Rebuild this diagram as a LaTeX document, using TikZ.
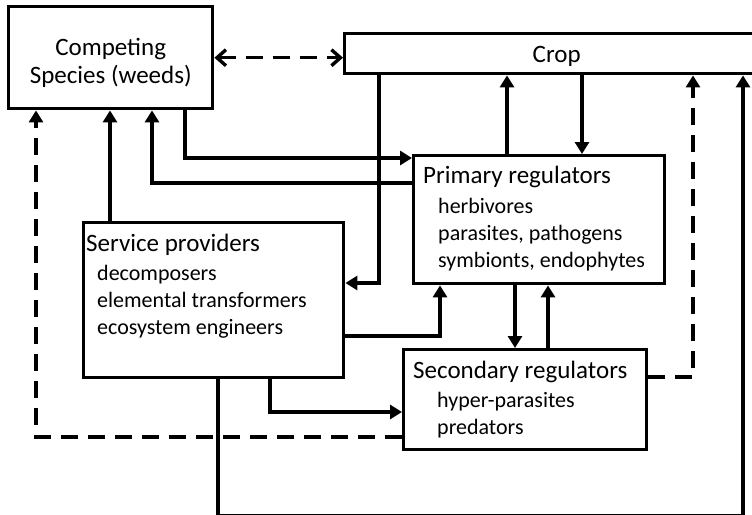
\documentclass[tikz,border=0pt]{standalone}
\usepackage{fontspec}
\setmainfont{Carlito}
\usetikzlibrary{arrows.meta,positioning}

\begin{document}
\begin{tikzpicture}[x=1pt,y=-1pt,
  box/.style={draw, line width=3.4pt, anchor=north west, inner sep=0pt},
  head/.style={font=\fontsize{25}{30}\selectfont, anchor=base west, inner sep=0pt},
  item/.style={font=\fontsize{22}{27}\selectfont, anchor=base west, inner sep=0pt},
  link/.style={line width=3.4pt, -{Triangle[length=12pt,width=14pt]}},
  dlink/.style={link, dash pattern=on 17pt off 10pt},
]
\useasboundingbox (0,0) rectangle (752,514);

% boxes
\node[box, minimum width=204pt, minimum height=102pt] (comp) at (7,5) {};
\node[box, minimum width=424pt, minimum height=40pt] (crop) at (343,32) {};
\node[box, minimum width=251pt, minimum height=128pt] (prim) at (412,154) {};
\node[box, minimum width=260pt, minimum height=155pt] (serv) at (82,221) {};
\node[box, minimum width=243pt, minimum height=100pt] (sec) at (402,348) {};

% texts
\node[head, anchor=base] (comp1) at ([yshift=-50pt]comp.north) {Competing};
\node[head, anchor=base] (comp2) at ([yshift=-78pt]comp.north) {Species (weeds)};
\node[head, anchor=base] (croptxt) at ([yshift=-30pt]crop.north) {Crop};

\node[head] (primtxt) at ([xshift=11pt,yshift=-29pt]prim.north west) {Primary regulators};
\foreach \t [count=\i] in {herbivores, {parasites, pathogens}, {symbionts, endophytes}}
  \node[item] (prim\i) at ([xshift=26pt,yshift=-32pt-27*\i]prim.north west) {\t};

\node[head] (servtxt) at ([xshift=4pt,yshift=-30pt]serv.north west) {Service providers};
\foreach \t [count=\i] in {decomposers, elemental transformers, ecosystem engineers}
  \node[item] (serv\i) at ([xshift=15pt,yshift=-32pt-27*\i]serv.north west) {\t};

\node[head] (sectxt) at ([xshift=11pt,yshift=-30pt]sec.north west) {Secondary regulators};
\foreach \t [count=\i] in {hyper-parasites, predators}
  \node[item] (sec\i) at ([xshift=35pt,yshift=-32pt-27*\i]sec.north west) {\t};

% connectors
\draw[line width=3.4pt, dash pattern=on 17pt off 10pt,
  {Straight Barb[length=9pt,width=16pt]}-{Straight Barb[length=9pt,width=16pt]}]
  (comp.east) -- (comp.east -| crop.west);
\draw[link] ([xshift=28pt]serv.north west) coordinate (p) -- (p |- comp.south);
\draw[link] ([yshift=-29pt]prim.north west) -| ([xshift=145pt]comp.south west);
\draw[link] ([xshift=178pt]comp.south west) |- ([yshift=-4pt]prim.north west);
\draw[link] ([xshift=95pt]prim.north west) coordinate (p) -- (p |- crop.south);
\draw[link] ([xshift=170pt]prim.north west |- crop.south) coordinate (p) -- (p |- prim.north);
\draw[link] ([xshift=36pt]crop.south west) |- ([yshift=-62pt]serv.north east);
\draw[link] ([yshift=-115pt]serv.north east) -| ([xshift=28pt]prim.south west);
\draw[link] ([xshift=103pt]prim.south west) coordinate (p) -- (p |- sec.north);
\draw[link] ([xshift=146pt]sec.north west) coordinate (p) -- (p |- prim.south);
\draw[link] ([xshift=188pt]serv.south west) |- ([yshift=-64pt]sec.north west);
\draw[dlink] ([yshift=-89pt]sec.north west) -| ([xshift=29pt]comp.south west);
\draw[dlink] ([yshift=-29pt]sec.north east) -| ([xshift=350pt]crop.south west);
\draw[link] ([xshift=136pt]serv.south west) -- ++(0,136) -| ([xshift=400pt]crop.south west);
\end{tikzpicture}
\end{document}
